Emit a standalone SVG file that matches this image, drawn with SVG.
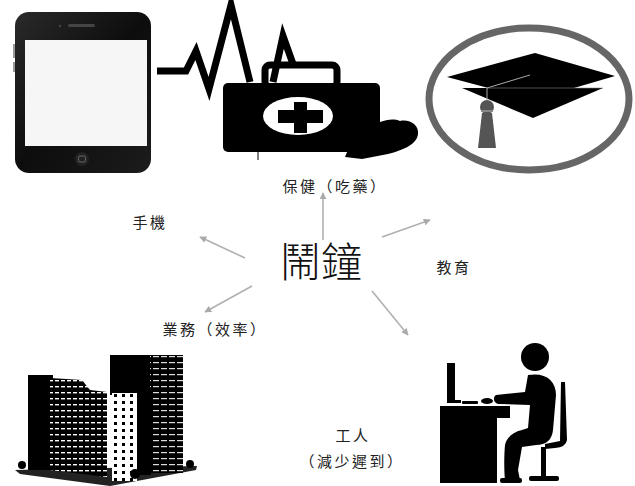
<svg xmlns="http://www.w3.org/2000/svg" width="635" height="486" viewBox="0 0 635 486">
  <style>
    .lbl { font-family: "Noto Sans CJK TC", "Noto Sans CJK SC", sans-serif; font-size: 15px; fill: #222; letter-spacing: 2.5px; }
    .title { font-family: "Noto Sans CJK TC", "Noto Sans CJK SC", sans-serif; font-size: 41px; font-weight: 300; fill: #111; }
    .conn { stroke: #b0b0b0; stroke-width: 1.6; fill: none; marker-end: url(#ah); }
  </style>
  <defs>
    <marker id="ah" viewBox="0 0 10 10" refX="9" refY="5" markerWidth="7" markerHeight="7" orient="auto" markerUnits="userSpaceOnUse">
      <path d="M0,0 L10,5 L0,10 Z" fill="#aaa"/>
    </marker>
    <linearGradient id="phoneBody" x1="0" y1="0" x2="1" y2="1">
      <stop offset="0" stop-color="#2a2a2a"/>
      <stop offset="0.5" stop-color="#0d0d0d"/>
      <stop offset="1" stop-color="#1c1c1c"/>
    </linearGradient>
    <pattern id="win" width="6" height="6" patternUnits="userSpaceOnUse">
      <rect width="6" height="6" fill="#000"/>
      <rect x="1" y="2" width="4" height="1.4" fill="#fff"/>
    </pattern>
    <pattern id="winR" width="8" height="6" patternUnits="userSpaceOnUse">
      <rect width="8" height="6" fill="#000"/>
      <rect x="1" y="2" width="6" height="1.2" fill="#ddd"/>
    </pattern>
    <pattern id="winStrip" width="8" height="7" patternUnits="userSpaceOnUse">
      <rect width="8" height="7" fill="#fff"/>
      <rect x="2" y="2" width="3" height="3" fill="#000"/>
    </pattern>
  </defs>

  <rect width="635" height="486" fill="#fff"/>

  <!-- phone -->
  <g id="phone">
    <rect x="13" y="44" width="3" height="14" fill="#999"/>
    <rect x="13" y="62" width="3" height="10" fill="#999"/>
    <rect x="15" y="12" width="136" height="161" rx="14" fill="url(#phoneBody)"/>
    <rect x="25" y="40" width="122" height="106" fill="#f6f6f6"/>
    <rect x="68" y="24" width="27" height="3" rx="1.5" fill="#444"/>
    <circle cx="60" cy="26" r="1.3" fill="#444"/>
    <circle cx="82" cy="159" r="7" fill="#222"/>
    <rect x="78.5" y="156" width="7" height="6" rx="1.5" fill="none" stroke="#777" stroke-width="0.8"/>
  </g>

  <!-- health: ECG line, first-aid kit, heart -->
  <g id="health">
    <!-- heart tucked behind the kit, tip pointing down-left -->
    <path d="M345,157 L352,140 L372,126 C382,120 392,118 400,121 C410,119 419,125 418,134 C417,144 404,150 388,154 L362,159 Z" fill="#000"/>
    <polyline points="157,71 186,71 196,51 209,89 231,5 250,82" fill="none" stroke="#000" stroke-width="7" stroke-linejoin="miter" stroke-miterlimit="10"/>
    <rect x="265" y="65" width="72" height="22" rx="5" fill="none" stroke="#000" stroke-width="7"/>
    <rect x="223" y="83" width="157" height="69" rx="5" fill="#000"/>
    <polyline points="273,82 283,36 293,64" fill="none" stroke="#000" stroke-width="7" stroke-linejoin="miter"/>
    <ellipse cx="298" cy="116" rx="35" ry="19" fill="#fff"/>
    <rect x="278" y="110" width="45" height="13" fill="#000"/>
    <rect x="294" y="102" width="13" height="31" fill="#000"/>
    <line x1="258" y1="150" x2="258" y2="160" stroke="#000" stroke-width="1"/>
  </g>

  <!-- education: graduation cap in a ring -->
  <g id="education">
    <ellipse cx="529" cy="99" rx="100" ry="71" fill="none" stroke="#666" stroke-width="7"/>
    <path d="M462,88 L603,88 L533,118 Z" fill="#000"/>
    <path d="M447,77 L535,53 L615,76 L533,100 Z" fill="#000"/>
    <polyline points="530,75 487,88 487,101" fill="none" stroke="#aaa" stroke-width="1"/>
    <line x1="487" y1="88" x2="603" y2="88" stroke="#888" stroke-width="0.6"/>
    <circle cx="487" cy="107" r="7" fill="#555"/>
    <rect x="481" y="110" width="12" height="2" fill="#888"/>
    <path d="M482,113 L492,113 L496,148 L478,148 Z" fill="#555"/>
  </g>

  <!-- business: office towers -->
  <g id="business">
    <path d="M15,470 L197,466 L196,470 L110,486 L20,474 Z" fill="#222"/>
    <rect x="28" y="375" width="25" height="95" fill="#000"/>
    <path d="M50,378 L82,380 L90,390 L107,392 L107,477 L50,470 Z" fill="url(#win)"/>
    <rect x="110" y="355" width="73" height="40" fill="#000"/>
    <rect x="150" y="355" width="33" height="118" fill="url(#winR)"/>
    <rect x="137" y="390" width="14" height="85" fill="#000"/>
    <rect x="112" y="393" width="25" height="88" fill="url(#winStrip)"/>
    <circle cx="22" cy="465" r="4" fill="#000"/>
    <circle cx="190" cy="464" r="4" fill="#000"/>
    <circle cx="135" cy="474" r="5" fill="#000"/>
  </g>

  <!-- worker at a desk -->
  <g id="worker">
    <circle cx="535" cy="357" r="14" fill="#000"/>
    <rect x="447" y="363" width="8" height="38" fill="#000"/>
    <rect x="447" y="400" width="14" height="3" fill="#000"/>
    <rect x="462" y="401" width="16" height="3" rx="1" fill="#000"/>
    <ellipse cx="487" cy="401" rx="6" ry="3" fill="#000"/>
    <rect x="440" y="406" width="70" height="12" fill="#000"/>
    <rect x="440" y="406" width="57" height="77" fill="#000"/>
    <!-- chair -->
    <path d="M561,382 L565,382 L567,440 Q566,447 555,448 L545,449 L545,444 L560,441 Z" fill="#000"/>
    <rect x="541" y="447" width="5" height="30" fill="#000"/>
    <rect x="529" y="476" width="30" height="5" rx="2" fill="#000"/>
    <!-- body -->
    <path d="M528,375 C545,372 556,380 556,395 L553,430 C552,440 546,445 536,445 L522,447 L518,470 L520,480 L505,481 C504,470 504,455 505,445 C507,437 513,432 522,430 L528,428 L530,405 L500,404 C494,404 492,398 496,395 L525,392 Z" fill="#000"/>
    <rect x="500" y="478" width="22" height="5" rx="2" fill="#000"/>
  </g>

  <!-- labels -->
  <g id="center">
    <text class="title" x="321" y="277" text-anchor="middle">鬧鐘</text>
  </g>
  <g id="label-health"><text class="lbl" x="335" y="192" text-anchor="middle">保健（吃藥）</text></g>
  <g id="label-phone"><text class="lbl" x="150" y="228" text-anchor="middle">手機</text></g>
  <g id="label-edu"><text class="lbl" x="454" y="273" text-anchor="middle">教育</text></g>
  <g id="label-biz"><text class="lbl" x="215" y="335" text-anchor="middle">業務（效率）</text></g>
  <g id="label-worker">
    <text class="lbl" x="353" y="441" text-anchor="middle">工人</text>
    <text class="lbl" x="352" y="467" text-anchor="middle">（減少遲到）</text>
  </g>

  <!-- connectors -->
  <g id="connectors">
    <line class="conn" x1="323" y1="240" x2="323" y2="193"/>
    <line class="conn" x1="245" y1="258" x2="200" y2="237"/>
    <line class="conn" x1="382" y1="237" x2="430" y2="220"/>
    <line class="conn" x1="252" y1="286" x2="205" y2="312"/>
    <line class="conn" x1="372" y1="291" x2="408" y2="335"/>
  </g>
</svg>
